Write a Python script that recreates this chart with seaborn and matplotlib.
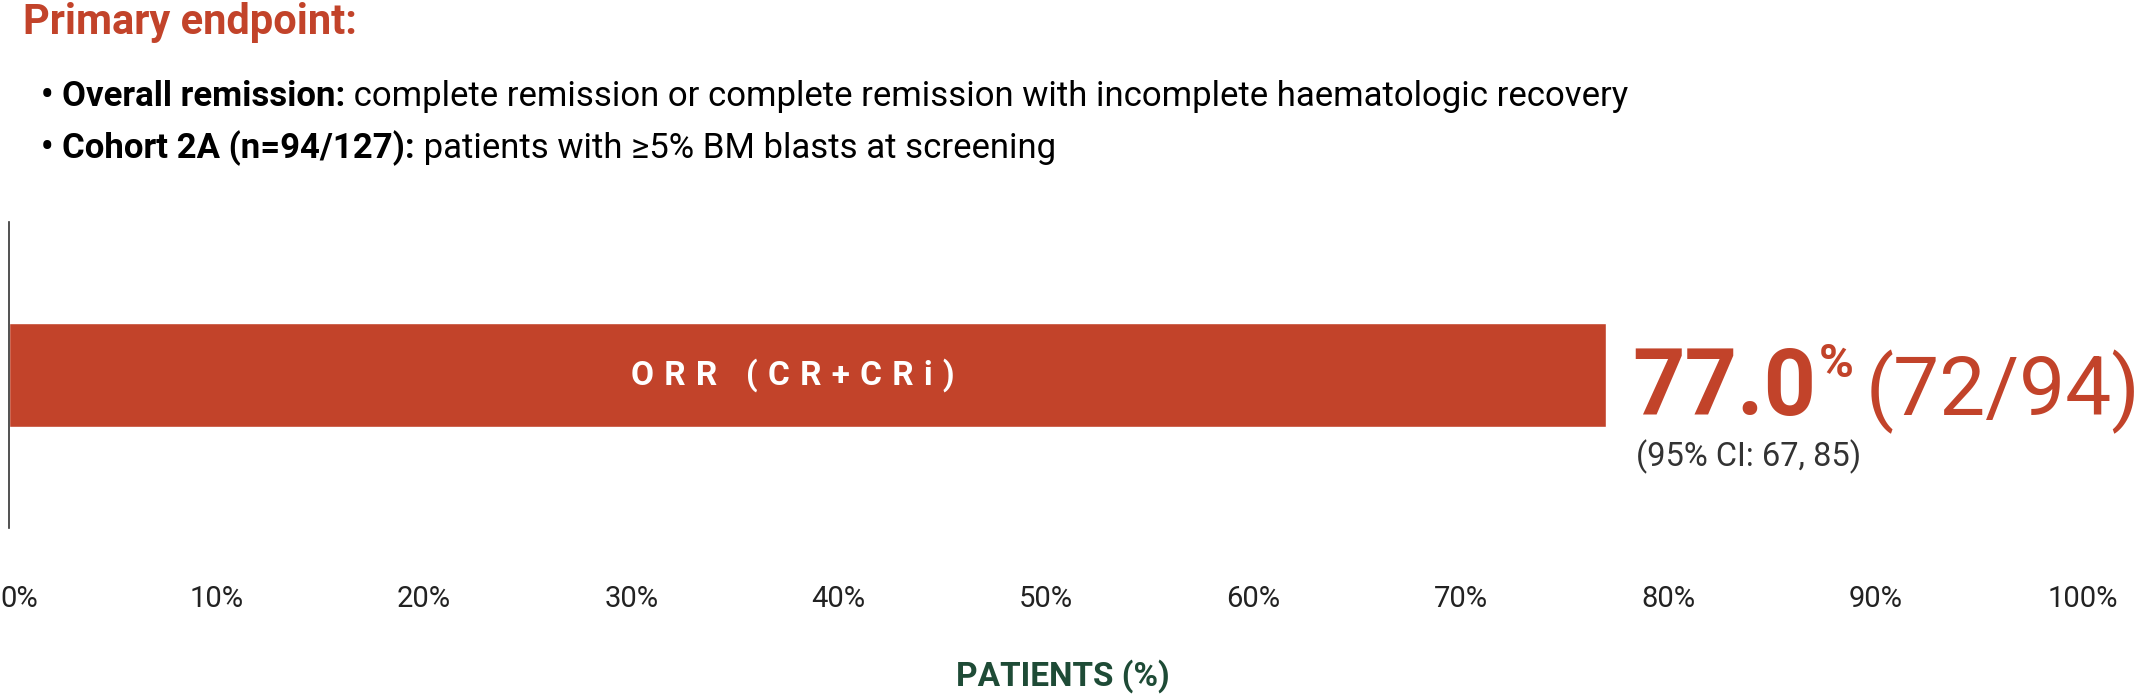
import matplotlib
matplotlib.use('Agg')
import matplotlib.pyplot as plt
import matplotlib.transforms as mtransforms
import seaborn as sns
import pandas as pd

# data
categories = ['ORR (CR+CRi)']
values = [77.0]
responders = [72]
n_patients = [94]
ci_low = [67]
ci_high = [85]
xticks = [0, 10, 20, 30, 40, 50, 60, 70, 80, 90, 100]
xtick_labels = ['%d%%' % t for t in xticks]

title = 'Primary endpoint:'
bullets = [
   ('Overall remission:', ' complete remission or complete remission with incomplete haematologic recovery'),
   ('Cohort 2A (n=94/127):', ' patients with \u22655% BM blasts at screening'),
]

RED = '#C2432A'
GREEN = '#1E4B36'
FONTS = ['Roboto', 'DejaVu Sans']


def put_runs(fig, renderer, x, y, runs, **kw):
   ''' draw text pieces one after another on one line, x,y in figure pixels '''
   W, H = fig.get_size_inches() * fig.dpi
   for s, props in runs:
      t = fig.text(x / W, y / H, s, va='baseline', ha='left', family=FONTS, **kw, **props)
      bb = t.get_window_extent(renderer)
      x = bb.x1
   return x


def main():
   sns.set_theme(style='white')
   plt.rcParams['font.family'] = FONTS

   df = pd.DataFrame({'category': categories, 'value': values})

   fig = plt.figure(figsize=(21.47, 6.94), dpi=100)
   W, H = 2147, 694
   ax = fig.add_axes([9 / W, 1 - 528 / H, (2083 - 9) / W, (528 - 222) / H])

   sns.barplot(data=df, x='value', y='category', orient='h', color=RED,
               saturation=1, width=0.34, ax=ax)
   ax.set_xlim(0, 100)
   ax.set_ylim(0.5, -0.5)
   ax.set_xticks(xticks)
   ax.set_xticklabels(xtick_labels, fontsize=21, color='#222222')
   ax.tick_params(axis='x', length=0, pad=41)
   # first label sits flush with the left edge
   first = ax.get_xticklabels()[0]
   first.set_ha('left')
   first.set_transform(first.get_transform() + mtransforms.ScaledTranslation(-9 / 100, 0, fig.dpi_scale_trans))
   ax.set_yticks([])
   ax.set_ylabel('')
   ax.set_xlabel('PATIENTS (%)', fontsize=24, fontweight='bold', color=GREEN, labelpad=33)
   ax.xaxis.label.set_x(0.508)
   for side in ['top', 'right', 'bottom']:
      ax.spines[side].set_visible(False)
   ax.spines['left'].set_color('#333333')
   ax.spines['left'].set_linewidth(1.2)

   # label inside the bar, letter spaced
   spaced = '\u2009\u200a'.join(categories[0])
   ax.text(values[0] / 2 - 0.7, 0, spaced, ha='center', va='center', color='white',
           fontsize=24, fontweight='bold', family=FONTS)

   fig.canvas.draw()
   renderer = fig.canvas.get_renderer()

   # big result label next to the bar end
   bar_end = ax.transData.transform((values[0], 0))
   x0 = bar_end[0] + 26
   base = H - 415
   xa = put_runs(fig, renderer, x0, base,
                 [('%.1f' % values[0], {'fontsize': 66, 'fontweight': 'bold'})], color=RED)
   xa = put_runs(fig, renderer, xa + 3, H - 377,
                 [('%', {'fontsize': 34, 'fontweight': 'bold'})], color=RED)
   put_runs(fig, renderer, xa + 12, base,
            [('(%d/%d)' % (responders[0], n_patients[0]), {'fontsize': 59})], color=RED)
   put_runs(fig, renderer, x0 + 4, H - 466,
            [('(95%% CI: %d, %d)' % (ci_low[0], ci_high[0]), {'fontsize': 23.5})], color='#333333')

   # header text
   put_runs(fig, renderer, 23, H - 34, [(title, {'fontsize': 30, 'fontweight': 'bold'})], color=RED)
   for i, (b, rest) in enumerate(bullets):
      y = H - (106 + 52 * i)
      put_runs(fig, renderer, 41, y,
               [('\u2022 ' + b, {'fontsize': 25, 'fontweight': 'bold'}),
                (rest, {'fontsize': 25})], color='black')

   plt.savefig('out.png', dpi=100)


if __name__ == '__main__':
   main()
